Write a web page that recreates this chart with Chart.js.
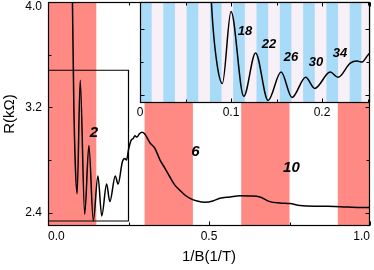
<!DOCTYPE html>
<html><head><meta charset="utf-8">
<script src="https://cdn.jsdelivr.net/npm/chart.js@4.4.1/dist/chart.umd.min.js"></script>
<style>
html,body{margin:0;padding:0;background:#fff;}
#wrap{position:relative;width:374px;height:270px;overflow:hidden;}
#main{position:absolute;left:0;top:0;}
#inset{position:absolute;left:130px;top:0;}
</style></head><body>
<div id="wrap"><canvas id="main" width="374" height="270"></canvas><canvas id="inset" width="244" height="122"></canvas></div>
<script>
// ---- data ----
const invB = [0.070, 0.0765, 0.080, 0.085, 0.0905, 0.100, 0.114, 0.127, 0.1407, 0.155, 0.167, 0.182, 0.192, 0.209, 0.2176, 0.231, 0.2385, 0.244, 0.2505, 0.258, 0.265, 0.270, 0.276, 0.284, 0.292, 0.300, 0.310, 0.317, 0.332, 0.348, 0.363, 0.379, 0.394, 0.410, 0.425, 0.441, 0.463, 0.488, 0.512, 0.534, 0.565, 0.596, 0.627, 0.658, 0.689, 0.720, 0.752, 0.783, 0.845, 0.907, 0.969, 1.000];
const resistance = [5.2, 3.9, 3.25, 2.75, 2.545, 3.406, 2.39, 2.91, 2.34, 2.68, 2.376, 2.618, 2.485, 2.68, 2.618, 2.788, 2.812, 2.80, 2.885, 2.95, 2.965, 2.985, 2.975, 3.0, 3.012, 3.0, 2.96, 2.93, 2.89, 2.80, 2.74, 2.67, 2.61, 2.57, 2.535, 2.51, 2.49, 2.48, 2.49, 2.51, 2.52, 2.53, 2.528, 2.52, 2.485, 2.475, 2.47, 2.455, 2.45, 2.447, 2.44, 2.44];

const mainXTicks = [0, 0.5, 1.0];
const mainXMinor = [0.25, 0.75];
const mainYTicks = [2.4, 3.2, 4.0];
const mainYMinor = [2.8, 3.6];
const insetXTicks = [0, 0.1, 0.2];
const insetXMinor = [0.05, 0.15, 0.25];
const insetYTicks = [2.4, 3.2];
const insetYMinor = [2.8];

const redBandStart = [0, 0.30, 0.60, 0.90];
const redBandEnd = [0.15, 0.45, 0.75, 1.0];
const blueBandStart = [0, 0.0256, 0.0512, 0.0768, 0.1024, 0.1280, 0.1536, 0.1792, 0.2048, 0.2304];
const blueBandEnd = [0.0128, 0.0384, 0.0640, 0.0896, 0.1152, 0.1408, 0.1664, 0.1920, 0.2176, 0.2432];

const zoomBoxX = [0, 0.25, 0.25, 0, 0];
const zoomBoxY = [2.338, 2.338, 3.482, 3.482, 2.338];

const mainLabelText = ['2', '6', '10'];
const mainLabelX = [0.143, 0.458, 0.756];
const mainLabelY = [3.01, 2.864, 2.742];
const insetLabelText = ['18', '22', '26', '30', '34'];
const insetLabelX = [0.1154, 0.1418, 0.166, 0.1934, 0.2198];
const insetLabelY = [3.164, 3.006, 2.861, 2.80, 2.909];

// ---- drawing ----
const FONT = '"Liberation Sans", Arial, sans-serif';
const pts = (xs, ys) => xs.map((v, i) => ({x: v, y: ys[i]}));

function makeDecor(cfg) {
  return {
    id: 'decor',
    beforeDatasetsDraw(chart) {
      const {ctx, chartArea: a, scales: {x}} = chart;
      ctx.save();
      ctx.fillStyle = cfg.bg;
      ctx.fillRect(a.left, a.top, a.right - a.left, a.bottom - a.top);
      ctx.fillStyle = cfg.band;
      cfg.bandStart.forEach((s, i) => {
        const x0 = Math.max(a.left, x.getPixelForValue(s));
        const x1 = Math.min(a.right, x.getPixelForValue(cfg.bandEnd[i]));
        if (x1 > x0) ctx.fillRect(x0, a.top, x1 - x0, a.bottom - a.top);
      });
      ctx.restore();
    },
    afterDatasetsDraw(chart) {
      const {ctx, chartArea: a, scales: {x, y}} = chart;
      ctx.save();
      ctx.strokeStyle = '#000';
      ctx.lineWidth = 1;
      const L = Math.round(a.left) + 0.5, R = Math.round(a.right) - 0.5;
      const T = Math.round(a.top) + 0.5, B = Math.round(a.bottom) - 0.5;
      ctx.beginPath();
      const xt = (vals, len) => vals.forEach(v => {
        const p = Math.round(x.getPixelForValue(v)) + 0.5;
        ctx.moveTo(p, B); ctx.lineTo(p, B - len);
        ctx.moveTo(p, T); ctx.lineTo(p, T + len);
      });
      const yt = (vals, len) => vals.forEach(v => {
        const p = Math.round(y.getPixelForValue(v)) + 0.5;
        ctx.moveTo(L, p); ctx.lineTo(L + len, p);
        ctx.moveTo(R, p); ctx.lineTo(R - len, p);
      });
      xt(cfg.xMajor, 4); xt(cfg.xMinor, 3);
      yt(cfg.yMajor, 4); yt(cfg.yMinor, 3);
      ctx.stroke();
      ctx.lineWidth = 1.2;
      ctx.strokeRect(L, T, R - L, B - T);
      // annotations
      ctx.fillStyle = '#000';
      ctx.font = cfg.labelFont;
      ctx.textAlign = 'center';
      ctx.textBaseline = 'middle';
      cfg.labelText.forEach((t, i) => {
        ctx.fillText(t, x.getPixelForValue(cfg.labelX[i]), y.getPixelForValue(cfg.labelY[i]));
      });
      // y tick labels drawn outside (main only)
      if (cfg.yLabels) {
        ctx.font = '12px ' + FONT;
        ctx.textAlign = 'right';
        cfg.yMajor.forEach(v => {
          let p = y.getPixelForValue(v);
          p = Math.max(p, a.top + 5);
          ctx.fillText(v.toFixed(1), a.left - 6, p);
        });
      }
      ctx.restore();
    }
  };
}

new Chart(document.getElementById('main'), {
  type: 'line',
  data: {datasets: [
    {data: pts(invB, resistance), borderColor: '#000', borderWidth: 1.5, pointRadius: 0, cubicInterpolationMode: 'monotone', fill: false},
    {data: pts(zoomBoxX, zoomBoxY), borderColor: '#000', borderWidth: 1.2, pointRadius: 0, tension: 0, fill: false}
  ]},
  options: {
    responsive: false, animation: false, devicePixelRatio: 1,
    layout: {padding: {top: 2, right: 4, left: 0, bottom: 0}},
    plugins: {legend: {display: false}, tooltip: {enabled: false}},
    scales: {
      x: {
        type: 'linear', min: 0, max: 1,
        grid: {display: false, drawTicks: false}, border: {display: false},
        afterBuildTicks: s => { s.ticks = mainXTicks.map(v => ({value: v})); },
        afterFit: s => { s.height = 44; s.paddingLeft = 0; s.paddingRight = 0; },
        ticks: {align: 'inner', padding: 3, color: '#000', font: {size: 12, family: FONT}, maxRotation: 0, callback: v => Number(v).toFixed(1)},
        title: {display: true, text: '1/B(1/T)', color: '#000', font: {size: 15, family: FONT}, padding: {top: 0, bottom: 4}}
      },
      y: {
        type: 'linear', min: 2.3, max: 4.0,
        grid: {display: false, drawTicks: false}, border: {display: false},
        afterBuildTicks: s => { s.ticks = mainYTicks.map(v => ({value: v})); },
        afterFit: s => { s.width = 48; s.paddingTop = 0; s.paddingBottom = 0; },
        ticks: {display: false},
        title: {display: true, text: 'R(kΩ)', color: '#000', font: {size: 15, family: FONT}, padding: {top: 1, bottom: 0}}
      }
    }
  },
  plugins: [makeDecor({
    bg: '#ffffff', band: '#ff8a84',
    bandStart: redBandStart, bandEnd: redBandEnd,
    xMajor: mainXTicks, xMinor: mainXMinor, yMajor: mainYTicks, yMinor: mainYMinor,
    labelText: mainLabelText, labelX: mainLabelX, labelY: mainLabelY,
    labelFont: 'italic bold 15px ' + FONT, yLabels: true
  })]
});

new Chart(document.getElementById('inset'), {
  type: 'line',
  data: {datasets: [
    {data: pts(invB, resistance), borderColor: '#000', borderWidth: 1.5, pointRadius: 0, cubicInterpolationMode: 'monotone', fill: false}
  ]},
  options: {
    responsive: false, animation: false, devicePixelRatio: 1,
    layout: {padding: {top: 2, right: 4, left: 0, bottom: 0}},
    plugins: {legend: {display: false}, tooltip: {enabled: false}},
    scales: {
      x: {
        type: 'linear', min: 0, max: 0.2527,
        grid: {display: false, drawTicks: false}, border: {display: false},
        afterBuildTicks: s => { s.ticks = insetXTicks.map(v => ({value: v})); },
        afterFit: s => { s.height = 19; s.paddingLeft = 0; s.paddingRight = 0; },
        ticks: {padding: 2, color: '#000', font: {size: 12, family: FONT}, maxRotation: 0, callback: v => v === 0 ? '0' : Number(v).toFixed(1)}
      },
      y: {
        type: 'linear', min: 2.31, max: 3.52,
        grid: {display: false, drawTicks: false}, border: {display: false},
        afterBuildTicks: s => { s.ticks = insetYTicks.map(v => ({value: v})); },
        afterFit: s => { s.width = 10; s.paddingTop = 0; s.paddingBottom = 0; },
        ticks: {mirror: true, padding: 4, color: '#000', font: {size: 12, family: FONT}, callback: v => Number(v).toFixed(1)}
      }
    }
  },
  plugins: [makeDecor({
    bg: '#f8f0f7', band: '#a8dbf7',
    bandStart: blueBandStart, bandEnd: blueBandEnd,
    xMajor: insetXTicks, xMinor: insetXMinor, yMajor: insetYTicks, yMinor: insetYMinor,
    labelText: insetLabelText, labelX: insetLabelX, labelY: insetLabelY,
    labelFont: 'italic bold 13px ' + FONT, yLabels: false
  })]
});
</script>
</body></html>
